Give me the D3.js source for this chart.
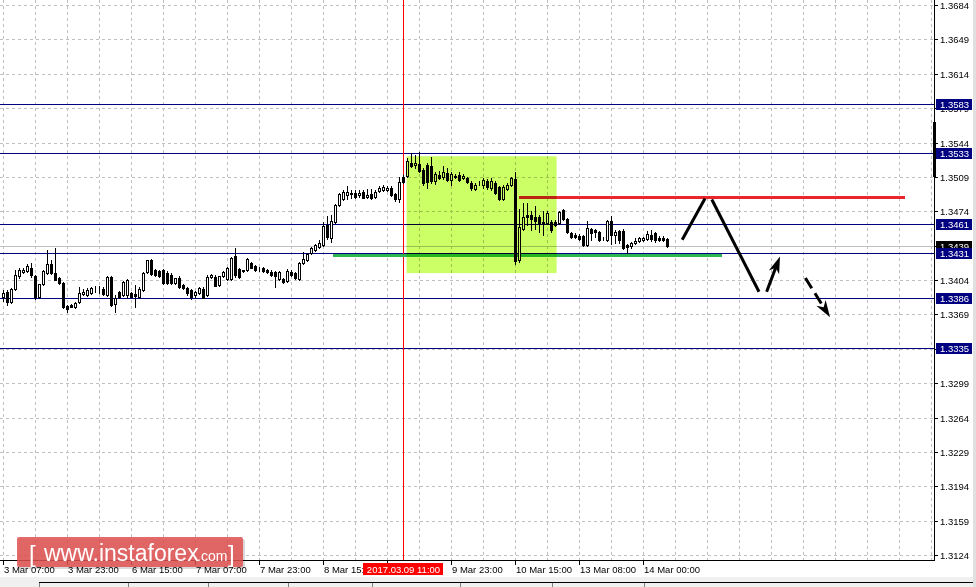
<!DOCTYPE html>
<html>
<head>
<meta charset="utf-8">
<script src="https://cdn.jsdelivr.net/npm/d3@7"></script>
<style>
  body { margin: 0; background: #fff; overflow: hidden; }
  text { font-family: "Liberation Sans", Arial, sans-serif; }
</style>
</head>
<body>
<div id="svgRoot"></div>
<script>
// hourly candles, index 0 = 3 Mar 07:00
const opens = [1.3387,1.3392,1.3382,1.3395,1.3408,1.3412,1.3413,1.3416,1.3408,1.3387,1.3400,1.3411,1.3420,1.3411,1.3406,1.3401,1.3378,1.3379,1.3377,1.3382,
  1.3390,1.3389,1.3391,1.3395,1.3395,1.3395,1.3389,1.3407,1.3380,1.3392,1.3389,1.3389,1.3391,1.3390,1.3387,1.3394,1.3412,1.3424,1.3414,1.3413,
  1.3414,1.3411,1.3409,1.3401,1.3406,1.3399,1.3396,1.3394,1.3389,1.3391,1.3395,1.3389,1.3407,1.3407,1.3399,1.3408,1.3405,1.3405,1.3428,1.3415,
  1.3413,1.3414,1.3421,1.3418,1.3415,1.3416,1.3414,1.3412,1.3412,1.3405,1.3405,1.3403,1.3412,1.3411,1.3405,1.3421,1.3424,1.3431,1.3435,1.3438,
  1.3440,1.3460,1.3447,1.3463,1.3480,1.3486,1.3491,1.3492,1.3493,1.3491,1.3494,1.3489,1.3492,1.3489,1.3495,1.3496,1.3496,1.3498,1.3492,1.3486,
  1.3509,1.3510,1.3523,1.3521,1.3522,1.3516,1.3521,1.3520,1.3505,1.3511,1.3509,1.3513,1.3506,1.3509,1.3511,1.3508,1.3508,1.3503,1.3497,1.3503,
  1.3501,1.3505,1.3498,1.3503,1.3499,1.3486,1.3497,1.3501,1.3507,1.3424,1.3456,1.3470,1.3470,1.3468,1.3468,1.3463,1.3462,1.3463,1.3463,1.3462,
  1.3475,1.3466,1.3452,1.3450,1.3449,1.3449,1.3440,1.3456,1.3455,1.3453,1.3446,1.3445,1.3464,1.3450,1.3454,1.3454,1.3440,1.3439,1.3442,1.3444,
  1.3445,1.3446,1.3450,1.3452,1.3447,1.3447,1.3446];
const highs = [1.3394,1.3394,1.3396,1.3414,1.3416,1.3416,1.3420,1.3421,1.3409,1.3400,1.3414,1.3435,1.3424,1.3437,1.3407,1.3402,1.3379,1.3380,1.3382,1.3397,
  1.3395,1.3396,1.3397,1.3398,1.3398,1.3397,1.3408,1.3408,1.3389,1.3393,1.3403,1.3405,1.3392,1.3399,1.3397,1.3412,1.3424,1.3425,1.3415,1.3414,
  1.3415,1.3413,1.3411,1.3406,1.3408,1.3400,1.3397,1.3395,1.3393,1.3397,1.3397,1.3409,1.3410,1.3409,1.3408,1.3413,1.3417,1.3427,1.3437,1.3416,
  1.3414,1.3426,1.3422,1.3419,1.3417,1.3417,1.3415,1.3414,1.3413,1.3413,1.3406,1.3415,1.3414,1.3412,1.3422,1.3433,1.3431,1.3438,1.3441,1.3445,
  1.3463,1.3469,1.3470,1.3481,1.3493,1.3496,1.3500,1.3496,1.3496,1.3496,1.3496,1.3497,1.3497,1.3496,1.3500,1.3501,1.3500,1.3500,1.3493,1.3509,
  1.3511,1.3528,1.3533,1.3531,1.3534,1.3518,1.3523,1.3529,1.3514,1.3515,1.3520,1.3518,1.3514,1.3512,1.3514,1.3512,1.3509,1.3505,1.3503,1.3505,
  1.3508,1.3507,1.3508,1.3505,1.3500,1.3501,1.3503,1.3509,1.3514,1.3476,1.3482,1.3482,1.3474,1.3479,1.3470,1.3474,1.3474,1.3465,1.3465,1.3474,
  1.3476,1.3467,1.3453,1.3452,1.3451,1.3450,1.3464,1.3457,1.3456,1.3454,1.3448,1.3465,1.3469,1.3455,1.3455,1.3456,1.3441,1.3443,1.3447,1.3448,
  1.3448,1.3454,1.3455,1.3453,1.3449,1.3449,1.3447];
const lows = [1.3383,1.3379,1.3381,1.3394,1.3406,1.3411,1.3412,1.3407,1.3385,1.3386,1.3399,1.3410,1.3410,1.3404,1.3400,1.3375,1.3371,1.3377,1.3376,1.3381,
  1.3389,1.3388,1.3390,1.3392,1.3391,1.3389,1.3388,1.3378,1.3371,1.3386,1.3388,1.3386,1.3387,1.3377,1.3386,1.3393,1.3411,1.3409,1.3408,1.3407,
  1.3400,1.3400,1.3400,1.3400,1.3396,1.3395,1.3389,1.3385,1.3386,1.3390,1.3386,1.3388,1.3406,1.3398,1.3398,1.3407,1.3404,1.3404,1.3407,1.3406,
  1.3412,1.3413,1.3416,1.3413,1.3413,1.3412,1.3411,1.3408,1.3397,1.3404,1.3401,1.3402,1.3408,1.3405,1.3404,1.3420,1.3423,1.3430,1.3434,1.3437,
  1.3439,1.3446,1.3443,1.3462,1.3479,1.3485,1.3486,1.3488,1.3487,1.3489,1.3487,1.3488,1.3486,1.3488,1.3494,1.3495,1.3495,1.3490,1.3484,1.3483,
  1.3503,1.3509,1.3519,1.3518,1.3514,1.3501,1.3498,1.3503,1.3502,1.3507,1.3507,1.3505,1.3501,1.3508,1.3505,1.3507,1.3503,1.3496,1.3496,1.3501,
  1.3498,1.3497,1.3496,1.3492,1.3485,1.3485,1.3496,1.3500,1.3420,1.3422,1.3455,1.3460,1.3455,1.3456,1.3453,1.3450,1.3461,1.3453,1.3459,1.3461,
  1.3465,1.3452,1.3447,1.3447,1.3445,1.3439,1.3439,1.3445,1.3448,1.3444,1.3445,1.3444,1.3441,1.3442,1.3442,1.3436,1.3431,1.3437,1.3441,1.3443,
  1.3444,1.3445,1.3444,1.3443,1.3444,1.3444,1.3438];
const closes = [1.3391,1.3382,1.3395,1.3409,1.3414,1.3414,1.3418,1.3409,1.3387,1.3400,1.3413,1.3420,1.3411,1.3404,1.3401,1.3377,1.3374,1.3377,1.3381,1.3391,
  1.3392,1.3394,1.3396,1.3395,1.3395,1.3390,1.3407,1.3379,1.3386,1.3387,1.3402,1.3404,1.3387,1.3388,1.3395,1.3411,1.3424,1.3410,1.3409,1.3408,
  1.3401,1.3401,1.3401,1.3406,1.3397,1.3396,1.3391,1.3387,1.3392,1.3396,1.3386,1.3407,1.3409,1.3398,1.3408,1.3412,1.3416,1.3426,1.3409,1.3407,
  1.3414,1.3425,1.3416,1.3414,1.3415,1.3413,1.3412,1.3409,1.3408,1.3412,1.3402,1.3413,1.3409,1.3406,1.3421,1.3425,1.3430,1.3437,1.3440,1.3442,
  1.3459,1.3448,1.3464,1.3480,1.3492,1.3494,1.3494,1.3493,1.3489,1.3493,1.3488,1.3491,1.3487,1.3494,1.3498,1.3499,1.3498,1.3491,1.3486,1.3504,
  1.3504,1.3525,1.3520,1.3523,1.3515,1.3503,1.3504,1.3505,1.3512,1.3508,1.3514,1.3506,1.3512,1.3510,1.3506,1.3510,1.3504,1.3498,1.3501,1.3503,
  1.3506,1.3499,1.3505,1.3493,1.3486,1.3499,1.3501,1.3508,1.3423,1.3458,1.3468,1.3468,1.3466,1.3464,1.3462,1.3462,1.3472,1.3455,1.3460,1.3473,
  1.3466,1.3453,1.3448,1.3448,1.3446,1.3440,1.3457,1.3452,1.3453,1.3445,1.3446,1.3464,1.3450,1.3453,1.3445,1.3437,1.3438,1.3442,1.3444,1.3447,
  1.3447,1.3451,1.3446,1.3445,1.3445,1.3445,1.3439];

const priceTicks = [1.3684,1.3649,1.3614,1.3579,1.3544,1.3509,1.3474,1.3439,1.3404,1.3369,1.3334,1.3299,1.3264,1.3229,1.3194,1.3159,1.3124];
const timeTickIdx = [0,16,32,48,64,80,96,112,128,144,160];
// the 9 Mar 07:00 label sits under the cursor label, so it is left blank
const timeTickLabels = ["3 Mar 07:00","3 Mar 23:00","6 Mar 15:00","7 Mar 07:00","7 Mar 23:00","8 Mar 15:00","","9 Mar 23:00","10 Mar 15:00","13 Mar 08:00","14 Mar 00:00"];

const levels = [1.3583, 1.3533, 1.3461, 1.3431, 1.3386, 1.3335];
const bidPrice = 1.3439;
const cursorIdx = 100, cursorLabel = "2017.03.09 11:00";

const zoneIdx = [100.9, 138.4], zonePrice = [1.3530, 1.3411];
const redIdx = [129, 225.5], redPrice = 1.3488;
const greenIdx = [82.5, 179.75], greenPrice = 1.3429;
const legUp = [[169.8, 1.3445], [175.5, 1.3487]];
const legDown = [[177.2, 1.3486], [189, 1.3392]];
const arrowUp = [[190.9, 1.3392], [194.25, 1.3428]];
const arrowDown = [[200.6, 1.3406], [206.75, 1.3366]];

drawChart();

function drawChart(){
  var W = 976, H = 587;
  var plotR = 934, plotB = 560;

  var svg = d3.select("#svgRoot").append("svg")
    .attr("width", W).attr("height", H)
    .style("display", "block");

  var x = d3.scaleLinear().domain([0, 1]).range([3, 7]);
  var y = d3.scaleLinear().domain([1.3124, 1.3684]).range([555, 5]);
  var px = v => Math.round(x(v)) + 0.5;
  var py = v => Math.round(y(v)) + 0.5;

  svg.append("rect").attr("width", W).attr("height", H).attr("fill", "#fff");

  // grid
  var grid = svg.append("g").attr("stroke", "#c0c0c0").attr("stroke-dasharray", "3,3").attr("shape-rendering", "crispEdges");
  grid.selectAll("line.h").data(priceTicks).enter().append("line")
    .attr("x1", 0).attr("x2", plotR).attr("y1", d => py(d)).attr("y2", d => py(d));
  grid.selectAll("line.v").data(d3.range(0, 233, 8)).enter().append("line")
    .attr("y1", 0).attr("y2", plotB).attr("x1", d => px(d)).attr("x2", d => px(d));

  // bid line
  svg.append("line").attr("x1", 0).attr("x2", plotR).attr("y1", py(bidPrice)).attr("y2", py(bidPrice))
    .attr("stroke", "#c0c0c0").attr("shape-rendering", "crispEdges");

  // horizontal levels
  svg.selectAll("line.lvl").data(levels).enter().append("line")
    .attr("x1", 0).attr("x2", plotR).attr("y1", d => py(d)).attr("y2", d => py(d))
    .attr("stroke", "#000080").attr("shape-rendering", "crispEdges");

  // cursor
  svg.append("line").attr("x1", px(cursorIdx)).attr("x2", px(cursorIdx)).attr("y1", 0).attr("y2", plotB)
    .attr("stroke", "#ff0000").attr("shape-rendering", "crispEdges");

  // red and green lines
  svg.append("line").attr("x1", x(redIdx[0])).attr("x2", x(redIdx[1])).attr("y1", y(redPrice)).attr("y2", y(redPrice))
    .attr("stroke", "#e8262b").attr("stroke-width", 3);
  svg.append("line").attr("x1", x(greenIdx[0])).attr("x2", x(greenIdx[1])).attr("y1", y(greenPrice)).attr("y2", y(greenPrice))
    .attr("stroke", "#2cb550").attr("stroke-width", 3);

  // candles
  var candles = opens.map((o, i) => ({i: i, o: o, h: highs[i], l: lows[i], c: closes[i]}));
  var cg = svg.append("g").attr("shape-rendering", "crispEdges");
  cg.selectAll("line.w").data(candles).enter().append("line")
    .attr("x1", d => px(d.i)).attr("x2", d => px(d.i))
    .attr("y1", d => Math.round(y(d.h))).attr("y2", d => Math.round(y(d.l)) + 1)
    .attr("stroke", "#000");
  cg.selectAll("rect").data(candles).enter().append("rect")
    .attr("x", d => Math.round(x(d.i)) - 0.5)
    .attr("width", 2)
    .attr("y", d => Math.round(y(Math.max(d.o, d.c))) + 0.5)
    .attr("height", d => Math.max(0, Math.round(y(Math.min(d.o, d.c))) - Math.round(y(Math.max(d.o, d.c)))))
    .attr("fill", d => d.c >= d.o ? "#fff" : "#000")
    .attr("stroke", "#000");

  // zone rectangle (multiply so what is under it shows through)
  svg.append("rect")
    .attr("x", x(zoneIdx[0])).attr("width", x(zoneIdx[1]) - x(zoneIdx[0]))
    .attr("y", y(zonePrice[0])).attr("height", y(zonePrice[1]) - y(zonePrice[0]))
    .attr("fill", "#ccff66").style("mix-blend-mode", "multiply");

  // forecast lines
  var line = d3.line().x(d => x(d[0])).y(d => y(d[1]));
  [legUp, legDown].forEach(seg => {
    svg.append("path").attr("d", line(seg)).attr("stroke", "#000").attr("stroke-width", 3).attr("fill", "none");
  });
  drawArrow(arrowUp, false);
  drawArrow(arrowDown, true);

  function drawArrow(seg, dashed){
    var p0 = [x(seg[0][0]), y(seg[0][1])], p1 = [x(seg[1][0]), y(seg[1][1])];
    var dx = p1[0] - p0[0], dy = p1[1] - p0[1], len = Math.hypot(dx, dy);
    var ux = dx / len, uy = dy / len, nx = -uy, ny = ux;
    var L = 17, w = 5.5;
    var bx = p1[0] - ux * L, by = p1[1] - uy * L;
    var mx = p1[0] - ux * (L - 5), my = p1[1] - uy * (L - 5);
    svg.append("line").attr("x1", p0[0]).attr("y1", p0[1]).attr("x2", mx).attr("y2", my)
      .attr("stroke", "#000").attr("stroke-width", 3)
      .attr("stroke-dasharray", dashed ? "12,6" : null);
    svg.append("path")
      .attr("d", "M" + p1 + "L" + [bx + nx * w, by + ny * w] + "L" + [mx, my] + "L" + [bx - nx * w, by - ny * w] + "Z")
      .attr("fill", "#000");
  }

  // axes frame
  svg.append("line").attr("x1", plotR + 0.5).attr("x2", plotR + 0.5).attr("y1", 0).attr("y2", plotB + 1).attr("stroke", "#000");
  svg.append("line").attr("x1", 0).attr("x2", plotR + 1).attr("y1", plotB + 0.5).attr("y2", plotB + 0.5).attr("stroke", "#000");
  svg.append("rect").attr("x", 933).attr("y", 122).attr("width", 3).attr("height", 55).attr("fill", "#000");

  // price axis
  var ya = svg.append("g");
  ya.selectAll("line").data(priceTicks).enter().append("line")
    .attr("x1", plotR + 1).attr("x2", plotR + 4).attr("y1", d => py(d)).attr("y2", d => py(d)).attr("stroke", "#000");
  ya.selectAll("text").data(priceTicks).enter().append("text")
    .attr("x", 940).attr("y", d => Math.round(y(d)) + 4)
    .attr("font-size", "9.5px").attr("fill", "#000")
    .text(d => d.toFixed(4));

  // bid label
  svg.append("rect").attr("x", 936).attr("y", Math.round(y(bidPrice)) - 5).attr("width", 36).attr("height", 11).attr("fill", "#000");
  svg.append("text").attr("x", 940).attr("y", Math.round(y(bidPrice)) + 4).attr("font-size", "9.5px").attr("fill", "#fff").text(bidPrice.toFixed(4));

  // level labels
  var lg = svg.selectAll("g.lvl").data(levels).enter().append("g");
  lg.append("rect").attr("x", 936).attr("y", d => Math.round(y(d)) - 5).attr("width", 36).attr("height", 11).attr("fill", "#000080");
  lg.append("text").attr("x", 940).attr("y", d => Math.round(y(d)) + 4).attr("font-size", "9.5px").attr("fill", "#fff").text(d => d.toFixed(4));

  // time axis
  var xa = svg.append("g");
  xa.selectAll("line").data(timeTickIdx).enter().append("line")
    .attr("x1", d => px(d)).attr("x2", d => px(d)).attr("y1", plotB + 1).attr("y2", plotB + 5).attr("stroke", "#000");
  xa.selectAll("text").data(timeTickIdx).enter().append("text")
    .attr("x", d => Math.round(x(d)) + 1).attr("y", 573)
    .attr("font-size", "9.5px").attr("fill", "#000")
    .text((d, i) => timeTickLabels[i]);

  // cursor label
  svg.append("rect").attr("x", Math.round(x(cursorIdx)) - 40).attr("y", 563).attr("width", 80).attr("height", 12).attr("fill", "#ff0000");
  svg.append("text").attr("x", Math.round(x(cursorIdx)) + 0.5).attr("y", 573).attr("text-anchor", "middle")
    .attr("font-size", "9.5px").attr("fill", "#fff").text(cursorLabel);

  // window bottom strip and right border
  svg.append("rect").attr("x", 0).attr("y", 577).attr("width", W).attr("height", 10).attr("fill", "#f0f0f0");
  svg.append("line").attr("x1", 39).attr("x2", 973).attr("y1", 582.5).attr("y2", 582.5).attr("stroke", "#000");
  [39, 128, 208, 288, 372, 460, 552, 644].forEach(v => {
    svg.append("line").attr("x1", v + 0.5).attr("x2", v + 0.5).attr("y1", 583).attr("y2", 587).attr("stroke", "#808080");
  });
  svg.append("rect").attr("x", 973).attr("y", 0).attr("width", 3).attr("height", H).attr("fill", "#e0e0e0");

  // logo
  var logo = svg.append("g");
  logo.append("rect").attr("x", 19).attr("y", 539).attr("width", 226).attr("height", 30).attr("rx", 2).attr("fill", "#000").attr("opacity", 0.15);
  logo.append("rect").attr("x", 17).attr("y", 537).attr("width", 226).attr("height", 30).attr("rx", 2).attr("fill", "#e05050").attr("opacity", 0.85);
  logo.append("text").attr("x", 29).attr("y", 562).attr("font-size", "24px").attr("fill", "#fff").text("[");
  logo.append("text").attr("x", 44).attr("y", 561).attr("font-size", "23px").attr("fill", "#fff").text("www.instaforex");
  logo.append("text").attr("x", 197).attr("y", 561).attr("font-size", "14px").attr("fill", "#fff").text(".com");
  logo.append("text").attr("x", 228).attr("y", 562).attr("font-size", "24px").attr("fill", "#fff").text("]");
}
</script>
</body>
</html>
